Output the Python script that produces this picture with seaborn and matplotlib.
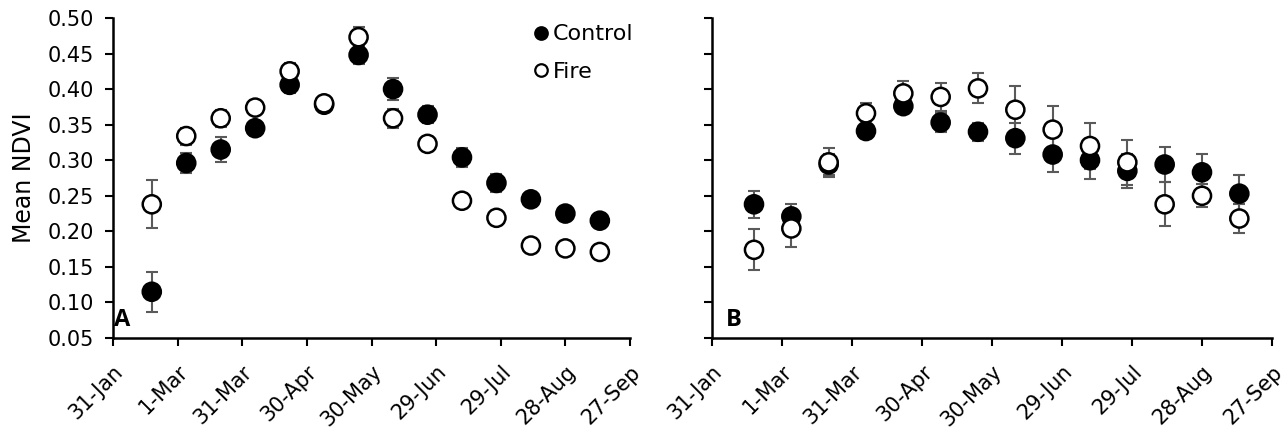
import numpy as np
import pandas as pd
import matplotlib
matplotlib.use("Agg")
import matplotlib.pyplot as plt
import matplotlib.transforms as mtransforms
import seaborn as sns
from matplotlib.lines import Line2D

# ---- data ----
dates = pd.date_range("2016-02-18", periods=14, freq="16D")

a_control = [0.115, 0.296, 0.315, 0.345, 0.406, 0.378, 0.448, 0.400, 0.364, 0.304, 0.268, 0.245, 0.225, 0.215]
a_control_se = [0.028, 0.014, 0.017, 0.008, 0.012, 0.009, 0.013, 0.015, 0.012, 0.013, 0.012, 0.010, 0.006, 0.005]
a_fire = [0.238, 0.334, 0.359, 0.374, 0.425, 0.380, 0.473, 0.359, 0.323, 0.243, 0.219, 0.180, 0.176, 0.171]
a_fire_se = [0.034, 0.012, 0.012, 0.006, 0.012, 0.008, 0.014, 0.013, 0.004, 0.004, 0.004, 0.004, 0.004, 0.004]

b_control = [0.238, 0.221, 0.294, 0.341, 0.376, 0.353, 0.340, 0.331, 0.308, 0.300, 0.285, 0.294, 0.283, 0.253]
b_control_se = [0.019, 0.018, 0.015, 0.010, 0.010, 0.013, 0.013, 0.022, 0.025, 0.026, 0.024, 0.024, 0.026, 0.026]
b_fire = [0.174, 0.204, 0.297, 0.366, 0.394, 0.389, 0.401, 0.371, 0.343, 0.320, 0.297, 0.238, 0.250, 0.218]
b_fire_se = [0.029, 0.026, 0.020, 0.015, 0.018, 0.020, 0.021, 0.033, 0.033, 0.033, 0.032, 0.031, 0.016, 0.020]

tick_dates = pd.date_range("2016-01-31", periods=9, freq="30D")
tick_labels = ["31-Jan", "1-Mar", "31-Mar", "30-Apr", "30-May", "29-Jun", "29-Jul", "28-Aug", "27-Sep"]
y_ticks = [0.05, 0.10, 0.15, 0.20, 0.25, 0.30, 0.35, 0.40, 0.45, 0.50]

sns.set_theme(style="ticks")
plt.rcParams['font.family'] = ['DejaVu Sans']
plt.rcParams.update({"text.color": "black", "axes.labelcolor": "black",
                     "xtick.color": "black", "ytick.color": "black"})

fig = plt.figure(figsize=(12.86, 4.32), dpi=100)
axA = fig.add_axes([113/1286, 1-338/432, (630-113)/1286, 320/432])
axB = fig.add_axes([712/1286, 1-338/432, (1272-712)/1286, 320/432])

ERR = "#5a5a5a"

def panel(ax, ctrl, ctrl_se, fire, fire_se, letter, letter_x, show_y):
    df = pd.DataFrame({
        "date": list(dates) * 2,
        "ndvi": list(ctrl) + list(fire),
        "se": list(ctrl_se) + list(fire_se),
        "group": ["Control"] * len(dates) + ["Fire"] * len(dates),
    })
    for g in ["Control", "Fire"]:
        d = df[df.group == g]
        ax.errorbar(d["date"], d["ndvi"], yerr=d["se"], fmt="none", ecolor=ERR,
                    elinewidth=1.5, capsize=4, capthick=1.5, zorder=2)
    sns.scatterplot(data=df, x="date", y="ndvi", hue="group",
                    palette={"Control": "black", "Fire": "white"},
                    edgecolor="black", linewidth=1.8, s=170, ax=ax, zorder=3,
                    legend=False)
    ax.set_xlim(tick_dates[0], tick_dates[-1])
    ax.set_ylim(0.05, 0.50)
    ax.set_xticks(tick_dates)
    ax.set_xticklabels(tick_labels, rotation=45, ha="right", va="top",
                       rotation_mode="anchor", fontsize=15)
    offset = mtransforms.ScaledTranslation(4/100, 0, fig.dpi_scale_trans)
    for lab in ax.get_xticklabels():
        lab.set_transform(lab.get_transform() + offset)
    ax.set_yticks(y_ticks)
    if show_y:
        ax.set_yticklabels([f"{v:.2f}" for v in y_ticks], fontsize=15)
        ax.set_ylabel("Mean NDVI", fontsize=17, labelpad=8)
    else:
        ax.set_yticklabels([])
        ax.set_ylabel("")
    ax.set_xlabel("")
    ax.tick_params(axis="y", direction="out", length=6, width=1.5, pad=8)
    ax.tick_params(axis="x", direction="out", length=6, width=1.5, pad=11)
    for s in ["top", "right"]:
        ax.spines[s].set_visible(False)
    for s in ["left", "bottom"]:
        ax.spines[s].set_color("black")
        ax.spines[s].set_linewidth(1.8)
    ax.text(letter_x, 0.018, letter, transform=ax.transAxes, fontsize=17,
            fontweight="bold", ha="left", va="bottom", family="Open Sans")

panel(axA, a_control, a_control_se, a_fire, a_fire_se, "A", 0.002, True)
panel(axB, b_control, b_control_se, b_fire, b_fire_se, "B", 0.024, False)

handles = [Line2D([], [], marker="o", ls="", markerfacecolor="black", markeredgecolor="black",
                  markersize=9, markeredgewidth=1.6),
           Line2D([], [], marker="o", ls="", markerfacecolor="white", markeredgecolor="black",
                  markersize=9, markeredgewidth=1.6)]
axA.legend(handles, ["Control", "Fire"], loc="upper left", bbox_to_anchor=(0.81, 0.98),
           frameon=False, fontsize=16, handletextpad=0.15, handlelength=0.8,
           labelspacing=0.78, borderaxespad=0.0, borderpad=0.0)

fig.savefig("out.png", dpi=100)
